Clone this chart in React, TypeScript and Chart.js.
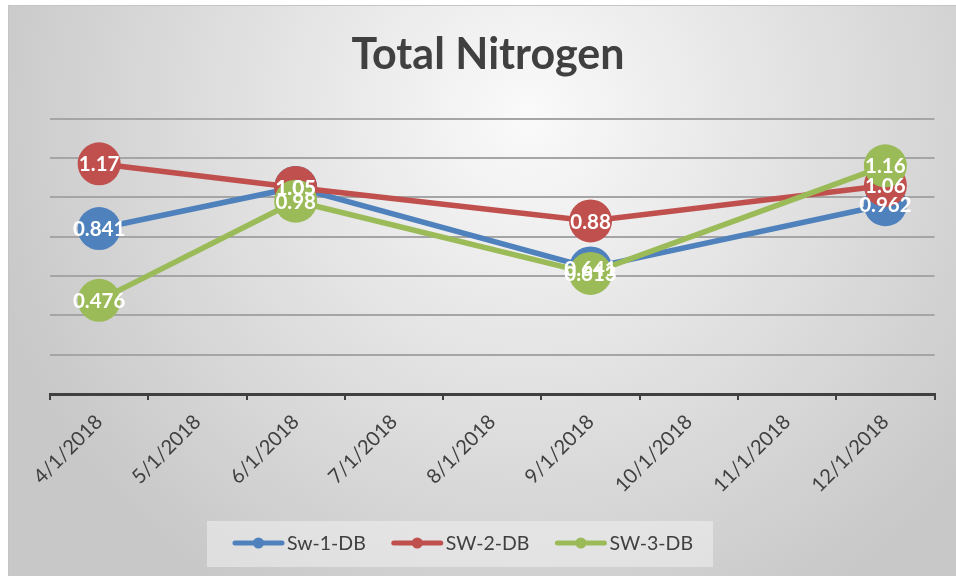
import React, { useEffect, useRef } from "react";
import { Chart, registerables } from "chart.js";

Chart.register(...registerables);

const categories = [
  "4/1/2018", "5/1/2018", "6/1/2018", "7/1/2018", "8/1/2018",
  "9/1/2018", "10/1/2018", "11/1/2018", "12/1/2018",
];
const sw1 = [0.841, null, 1.05, null, null, 0.641, null, null, 0.962];
const sw2 = [1.17, null, 1.05, null, null, 0.88, null, null, 1.06];
const sw3 = [0.476, null, 0.98, null, null, 0.613, null, null, 1.16];
const seriesNames = ["Sw-1-DB", "SW-2-DB", "SW-3-DB"];
const seriesColors = ["#4f81bd", "#c0504d", "#9bbb59"];
const titleText = "Total Nitrogen";
const yMin = 0;
const yMax = 1.4;
const yStep = 0.2;

const W = 948;
const H = 571;

const bgPlugin = {
  id: "bg",
  beforeDraw(chart: any) {
    const ctx = chart.ctx;
    ctx.save();
    const g = ctx.createRadialGradient(520, 110, 0, 520, 110, 560);
    g.addColorStop(0, "#fafafa");
    g.addColorStop(1, "#c8c8c8");
    ctx.fillStyle = g;
    ctx.fillRect(0, 0, chart.width, chart.height);
    ctx.strokeStyle = "#c4c4c4";
    ctx.lineWidth = 1;
    ctx.strokeRect(0.5, 0.5, chart.width + 2, chart.height + 2);
    ctx.restore();
  },
};

const labelPlugin = {
  id: "valueLabels",
  afterDatasetsDraw(chart: any) {
    const ctx = chart.ctx;
    ctx.save();
    ctx.font = "bold 20.5px Lato";
    ctx.fillStyle = "#ffffff";
    ctx.textAlign = "center";
    ctx.textBaseline = "middle";
    chart.data.datasets.forEach((ds: any, i: number) => {
      const meta = chart.getDatasetMeta(i);
      meta.data.forEach((pt: any, j: number) => {
        const v = ds.data[j];
        if (v === null || v === undefined) return;
        ctx.fillText(String(v), pt.x, pt.y + 1);
      });
    });
    ctx.restore();
  },
};

const legendPlugin = {
  id: "customLegend",
  afterDraw(chart: any) {
    const ctx = chart.ctx;
    ctx.save();
    ctx.font = "19.5px Lato";
    const lineLen = 51;
    const gapText = 3;
    const gapItem = 26;
    const items = chart.data.datasets.map((ds: any) => ({
      text: ds.label,
      color: ds.borderColor,
      w: ctx.measureText(ds.label).width,
    }));
    let total = 0;
    items.forEach((it: any, i: number) => {
      total += lineLen + gapText + it.w + (i < items.length - 1 ? gapItem : 0);
    });
    const center = 452;
    const cy = 538;
    const startX = center - total / 2 + 3;
    const boxL = startX - 26;
    const boxR = startX + total + 20;
    ctx.fillStyle = "rgba(240,240,240,0.55)";
    ctx.fillRect(boxL, 516, boxR - boxL, 46);
    let x = startX;
    items.forEach((it: any) => {
      ctx.strokeStyle = it.color;
      ctx.lineWidth = 5;
      ctx.lineCap = "round";
      ctx.beginPath();
      ctx.moveTo(x + 2, cy);
      ctx.lineTo(x + lineLen - 2, cy);
      ctx.stroke();
      ctx.fillStyle = it.color;
      ctx.beginPath();
      ctx.arc(x + lineLen / 2, cy, 5.5, 0, Math.PI * 2);
      ctx.fill();
      ctx.fillStyle = "#404040";
      ctx.textAlign = "left";
      ctx.textBaseline = "middle";
      ctx.fillText(it.text, x + lineLen + gapText, cy + 1);
      x += lineLen + gapText + it.w + gapItem;
    });
    ctx.restore();
  },
};

export default function App() {
  const ref = useRef<HTMLCanvasElement | null>(null);
  useEffect(() => {
    if (!ref.current) return;
    const all = [sw1, sw2, sw3];
    const chart = new Chart(ref.current, {
      type: "line",
      data: {
        labels: categories,
        datasets: all.map((d, i) => ({
          label: seriesNames[i],
          data: d,
          borderColor: seriesColors[i],
          backgroundColor: seriesColors[i],
          pointBackgroundColor: seriesColors[i],
          pointBorderWidth: 0,
          pointRadius: 21.5,
          pointHoverRadius: 21.5,
          borderWidth: 5.5,
          spanGaps: true,
          tension: 0,
          order: 3 - i,
          clip: false as any,
        })),
      },
      options: {
        responsive: false,
        animation: false,
        events: [],
        layout: { padding: { left: 28, right: 16, top: 0, bottom: 82 } },
        plugins: {
          legend: { display: false },
          tooltip: { enabled: false },
          title: {
            display: true,
            text: titleText,
            color: "#404040",
            font: { family: "Lato", size: 43, weight: "bold" },
            padding: { top: 24, bottom: 38 },
          },
        },
        scales: {
          x: {
            offset: true,
            grid: {
              offset: true,
              drawOnChartArea: false,
              drawTicks: true,
              tickLength: 6,
              color: "#404040",
              lineWidth: 2,
            },
            border: { display: true, color: "#404040", width: 3 },
            ticks: {
              autoSkip: false,
              minRotation: 45,
              maxRotation: 45,
              color: "#404040",
              font: { family: "Lato", size: 20 },
              padding: 10,
            },
            afterFit(scale: any) {
              scale.height = 100;
            },
          },
          y: {
            min: yMin,
            max: yMax,
            ticks: { display: false, stepSize: yStep },
            grid: {
              drawTicks: false,
              lineWidth: 2,
              color: (c: any) => (c.tick && c.tick.value === 0 ? "rgba(0,0,0,0)" : "#a5a5a5"),
            },
            border: { display: false },
            afterFit(scale: any) {
              scale.width = 14;
            },
          },
        },
      },
      plugins: [bgPlugin, labelPlugin, legendPlugin],
    });
    return () => chart.destroy();
  }, []);
  return (
    <div style={{ position: "absolute", left: 8, top: 5, width: W, height: H }}>
      <canvas ref={ref} width={W} height={H} style={{ display: "block" }} />
    </div>
  );
}
